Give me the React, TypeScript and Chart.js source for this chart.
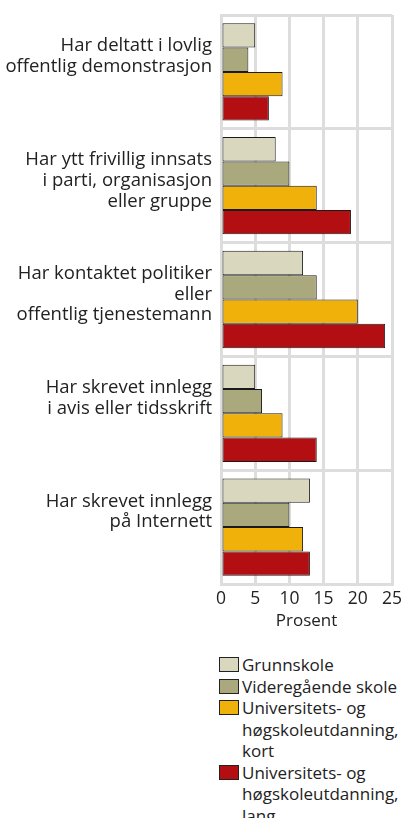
import React, { useEffect, useRef } from "react";
import { Chart, registerables } from "chart.js";

Chart.register(...registerables);

const categories: string[][] = [
  ["Har deltatt i lovlig", "offentlig demonstrasjon", ""],
  ["Har ytt frivillig innsats", "i parti, organisasjon", "eller gruppe"],
  ["Har kontaktet politiker", "eller", "offentlig tjenestemann"],
  ["Har skrevet innlegg", "i avis eller tidsskrift", ""],
  ["Har skrevet innlegg", "på Internett", ""],
];

const seriesNames: string[][] = [
  ["Grunnskole"],
  ["Videregående skole"],
  ["Universitets- og", "høgskoleutdanning,", "kort"],
  ["Universitets- og", "høgskoleutdanning,", "lang"],
];

const grunnskole = [5, 8, 12, 5, 13];
const videregaende = [4, 10, 14, 6, 10];
const uniKort = [9, 14, 20, 9, 12];
const uniLang = [7, 19, 24, 14, 13];

const xTicks = [0, 5, 10, 15, 20, 25];
const xTitle = "Prosent";

const colors = ["#d9d8bf", "#a9a97d", "#f0b20a", "#b30e12"];
const FONT = "'Open Sans', sans-serif";

export default function App() {
  const ref = useRef<HTMLCanvasElement | null>(null);

  useEffect(() => {
    if (!ref.current) return;
    const seriesData = [grunnskole, videregaende, uniKort, uniLang];
    const chart = new Chart(ref.current, {
      type: "bar",
      data: {
        labels: categories,
        datasets: seriesData.map((d, i) => ({
          label: seriesNames[i].join(" "),
          data: d,
          backgroundColor: colors[i],
          borderColor: "#1a1a1a",
          borderWidth: 1,
          borderSkipped: false,
          categoryPercentage: 0.855,
          barPercentage: 1.0,
        })),
      },
      options: {
        indexAxis: "y",
        responsive: false,
        animation: false,
        devicePixelRatio: 1,
        layout: { padding: { top: 15, right: 13, left: 0, bottom: 9 } },
        plugins: {
          legend: { display: false },
          tooltip: { enabled: false },
        },
        scales: {
          x: {
            min: 0,
            max: 25,
            afterFit: (s: any) => {
              s.height = 47;
              s.paddingLeft = 0;
              s.paddingRight = 0;
            },
            afterBuildTicks: (s: any) => {
              s.ticks = xTicks.map((v) => ({ value: v }));
            },
            ticks: {
              color: "#222222",
              font: { family: FONT, size: 17.5 },
              padding: 5,
              maxRotation: 0,
            },
            grid: { color: "#dddddd", lineWidth: 3, drawTicks: false },
            border: { display: true, color: "#dddddd", width: 3 },
            title: {
              display: true,
              text: xTitle,
              color: "#222222",
              font: { family: FONT, size: 17 },
              padding: { top: 0, bottom: 0 },
            },
          },
          y: {
            afterFit: (s: any) => {
              s.width = 221;
              s.paddingTop = 0;
              s.paddingBottom = 0;
            },
            ticks: {
              color: "#222222",
              font: { family: FONT, size: 18.5, lineHeight: 1.12 },
              padding: 9,
              labelOffset: -5,
            },
            grid: { color: "#dddddd", lineWidth: 3, drawTicks: false, offset: true },
            border: { display: true, color: "#dddddd", width: 3 },
          },
        },
      },
    });
    return () => chart.destroy();
  }, []);

  return (
    <div style={{ position: "absolute", left: 0, top: 0, width: 405, height: 818, background: "#fff", overflow: "hidden" }}>
      <canvas ref={ref} width={405} height={640} style={{ display: "block" }} />
      <div style={{ position: "absolute", left: 219, top: 654, fontFamily: FONT, fontSize: 17, color: "#222", lineHeight: "21.5px" }}>
        {seriesNames.map((lines, i) => (
          <div key={i} style={{ display: "flex", alignItems: "flex-start" }}>
            <div style={{ width: 18, height: 13, marginTop: 3, marginRight: 3, background: colors[i], border: "1px solid #222", flexShrink: 0 }} />
            <div style={{ whiteSpace: "nowrap" }}>
              {lines.map((l, j) => (
                <div key={j}>{l}</div>
              ))}
            </div>
          </div>
        ))}
      </div>
    </div>
  );
}
